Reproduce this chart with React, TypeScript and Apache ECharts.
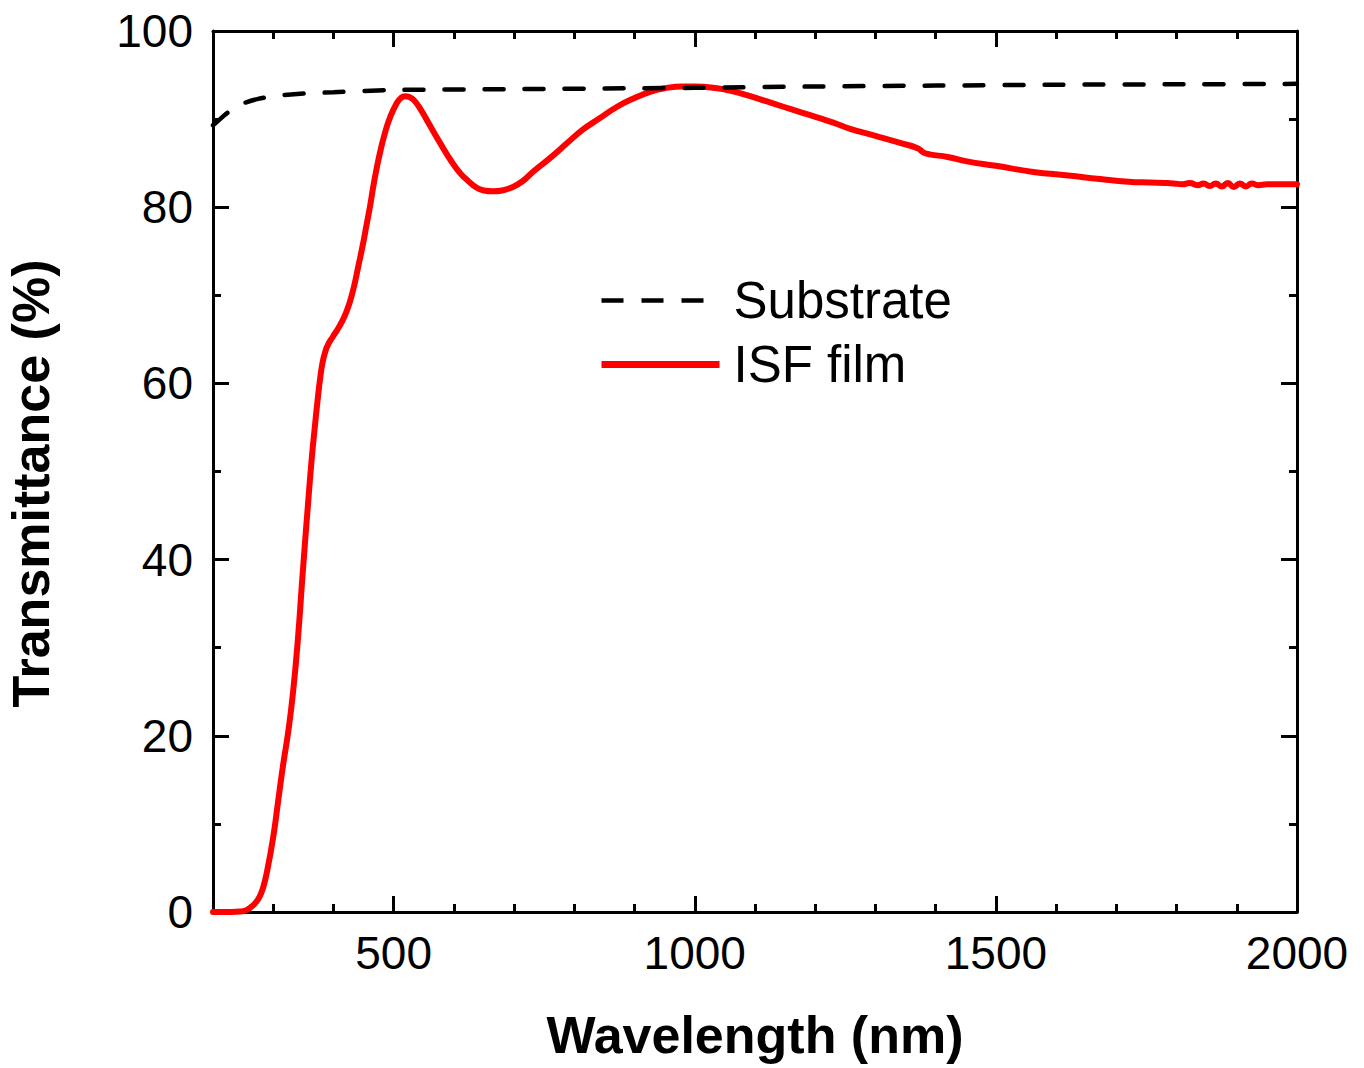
import React, { useEffect, useRef } from "react";
import * as echarts from "echarts";

const FONT = "'Liberation Sans', Arial, Helvetica, sans-serif";

// Wavelength (nm) and transmittance (%) of the ISF film
const isfWavelength = [
  200, 230, 245, 255, 262, 270, 277, 283, 290, 300, 308, 316, 325, 333, 341, 349, 358, 364, 369,
  374, 378, 382, 386, 391, 399, 410, 422, 433, 441, 449, 455, 461, 466, 472, 477, 485, 494, 505,
  512, 519, 526, 533, 544, 560, 577, 595, 610, 622, 638, 650, 665, 680, 698, 715, 731, 760, 790,
  814, 840, 871, 900, 926, 950, 980, 1000, 1037, 1060, 1092, 1120, 1147, 1175, 1203, 1230, 1258,
  1300, 1341, 1370, 1380, 1390, 1420, 1452, 1500, 1562, 1620, 1673, 1720, 1756, 1780, 1795, 1810,
  1822, 1835, 1845, 1855, 1865, 1875, 1885, 1895, 1905, 1915, 1925, 1935, 1950, 1970, 2000,
];
const isfTransmittance = [
  0, 0, 0.05, 0.2, 0.5, 1.0, 1.7, 2.7, 4.7, 8.5, 12.5, 16.5, 20.5, 25.0, 31.0, 38.5, 46.5, 51.5,
  55.0, 58.3, 60.6, 62.4, 63.5, 64.4, 65.3, 66.5, 68.2, 70.7, 73.2, 75.8, 78.0, 80.2, 82.3, 84.5,
  86.1, 88.3, 90.2, 91.8, 92.4, 92.6, 92.5, 92.2, 91.2, 89.3, 87.3, 85.3, 83.9, 83.1, 82.2, 81.9,
  81.8, 81.9, 82.3, 83.0, 84.0, 85.6, 87.4, 88.8, 90.0, 91.4, 92.4, 93.1, 93.5, 93.7, 93.7, 93.5,
  93.2, 92.6, 92.0, 91.4, 90.8, 90.2, 89.6, 88.9, 88.1, 87.3, 86.7, 86.2, 86.0, 85.7, 85.2, 84.7,
  84.0, 83.6, 83.2, 82.9, 82.8, 82.75, 82.7, 82.6, 82.75, 82.5, 82.7, 82.4, 82.7, 82.35, 82.75,
  82.3, 82.7, 82.35, 82.7, 82.5, 82.6, 82.6, 82.6,
];

// Wavelength (nm) and transmittance (%) of the bare substrate
const subWavelength = [200, 210, 220, 230, 240, 255, 275, 300, 350, 400, 500, 700, 900, 1000, 1200, 1400, 1600, 1800, 2000];
const subTransmittance = [89.3, 89.9, 90.5, 91.0, 91.5, 91.9, 92.3, 92.6, 92.9, 93.05, 93.3, 93.4, 93.5, 93.55, 93.7, 93.8, 93.9, 93.95, 94.0];

const xMajorTicks = [500, 1000, 1500, 2000];
const seriesNames = ["Substrate", "ISF film"];

export default function App() {
  const ref = useRef<HTMLDivElement>(null);

  useEffect(() => {
    if (!ref.current) return;
    const chart = echarts.init(ref.current, null, { renderer: "svg" });
    const axisLineStyle = { color: "#000", width: 3 };
    const tickLine = { color: "#000", width: 3 };
    const baseX = { type: "value", min: 200, max: 2000, splitLine: { show: false } };

    const option = {
      animation: false,
      backgroundColor: "#fff",
      textStyle: { fontFamily: FONT },
      grid: { left: 213, right: 67, top: 31, bottom: 156, containLabel: false, outerBoundsMode: "none" },
      legend: {
        orient: "vertical",
        left: 598,
        top: 275,
        padding: 0,
        itemWidth: 118,
        itemHeight: 14,
        itemGap: 13,
        itemStyle: { opacity: 0 },
        data: [
          { name: seriesNames[0], lineStyle: { width: 4.5, color: "#000", type: [22, 18], cap: "butt" } },
          { name: seriesNames[1], lineStyle: { width: 7, color: "#ff0000", cap: "butt" } },
        ],
        textStyle: { fontSize: 51, color: "#000", fontFamily: FONT, lineHeight: 50, padding: [0, 0, 0, 9] },
      },
      xAxis: [
        {
          ...baseX,
          position: "bottom",
          interval: 100,
          axisLine: { show: true, lineStyle: axisLineStyle },
          axisTick: { show: true, inside: true, length: 8, lineStyle: tickLine },
          axisLabel: {
            show: true,
            fontSize: 46,
            color: "#000",
            fontFamily: FONT,
            margin: 18,
            formatter: (v: number) => (xMajorTicks.includes(v) ? String(v) : ""),
          },
          name: "Wavelength (nm)",
          nameLocation: "middle",
          nameGap: 97,
          nameTextStyle: { fontSize: 52, fontWeight: "bold", color: "#000", fontFamily: FONT },
        },
        {
          ...baseX,
          position: "bottom",
          axisLine: { show: false },
          axisTick: { show: true, inside: true, length: 16, lineStyle: tickLine, customValues: xMajorTicks },
          axisLabel: { show: false },
        },
        {
          ...baseX,
          position: "top",
          interval: 100,
          axisLine: { show: true, lineStyle: axisLineStyle },
          axisTick: { show: true, inside: true, length: 8, lineStyle: tickLine },
          axisLabel: { show: false },
        },
        {
          ...baseX,
          position: "top",
          axisLine: { show: false },
          axisTick: { show: true, inside: true, length: 16, lineStyle: tickLine, customValues: xMajorTicks },
          axisLabel: { show: false },
        },
      ],
      yAxis: [
        {
          type: "value",
          position: "left",
          min: 0,
          max: 100,
          interval: 20,
          splitLine: { show: false },
          axisLine: { show: true, lineStyle: axisLineStyle },
          axisTick: { show: true, inside: true, length: 16, lineStyle: tickLine },
          minorTick: { show: true, splitNumber: 2, length: 8, lineStyle: tickLine },
          minorSplitLine: { show: false },
          axisLabel: { show: true, fontSize: 46, color: "#000", fontFamily: FONT, margin: 20 },
          name: "Transmittance (%)",
          nameLocation: "middle",
          nameGap: 156,
          nameTextStyle: { fontSize: 52, fontWeight: "bold", color: "#000", fontFamily: FONT, padding: [0, 24, 0, 0] },
        },
        {
          type: "value",
          position: "right",
          min: 0,
          max: 100,
          interval: 20,
          splitLine: { show: false },
          axisLine: { show: true, lineStyle: axisLineStyle },
          axisTick: { show: true, inside: true, length: 16, lineStyle: tickLine },
          minorTick: { show: true, splitNumber: 2, length: 8, lineStyle: tickLine },
          minorSplitLine: { show: false },
          axisLabel: { show: false },
        },
      ],
      series: [
        {
          name: "ISF film",
          type: "line",
          xAxisIndex: 0,
          yAxisIndex: 0,
          showSymbol: false,
          symbol: "none",
          smooth: 0.5,
          data: isfWavelength.map((w, i) => [w, isfTransmittance[i]]),
          lineStyle: { color: "#ff0000", width: 6, cap: "round", join: "round" },
          itemStyle: { color: "#ff0000" },
        },
        {
          name: "Substrate",
          type: "line",
          xAxisIndex: 0,
          yAxisIndex: 0,
          showSymbol: false,
          symbol: "none",
          smooth: 0.3,
          data: subWavelength.map((w, i) => [w, subTransmittance[i]]),
          lineStyle: { color: "#000", width: 4.5, type: [19, 21], cap: "round" },
          itemStyle: { color: "#000" },
        },
      ],
    };

    chart.setOption(option as any);
    return () => chart.dispose();
  }, []);

  return (
    <div
      ref={ref}
      style={{ position: "absolute", left: 0, top: 0, width: 1364, height: 1068, background: "#fff" }}
    />
  );
}
